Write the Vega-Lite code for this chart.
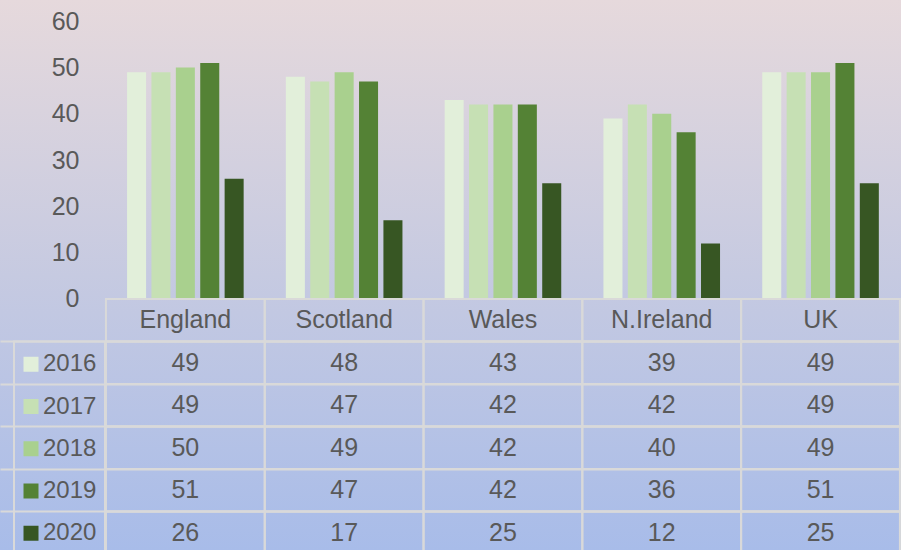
{
  "$schema": "https://vega.github.io/schema/vega-lite/v6.json",
  "width": 901,
  "height": 550,
  "autosize": {"type": "none"},
  "padding": 0,
  "config": {
    "view": {
      "stroke": null,
      "fill": {
        "gradient": "linear", "x1": 0, "y1": 0, "x2": 0, "y2": 1,
        "stops": [
          {"offset": 0, "color": "#e6d9dc"},
          {"offset": 0.5, "color": "#c6cae1"},
          {"offset": 1, "color": "#a8bce9"}
        ]
      }
    },
    "font": "Liberation Sans",
    "legend": {"strokeWidth": 2}
  },
  "data": {
    "values": [
      {"country": "England", "year": "2016", "value": 49},
      {"country": "England", "year": "2017", "value": 49},
      {"country": "England", "year": "2018", "value": 50},
      {"country": "England", "year": "2019", "value": 51},
      {"country": "England", "year": "2020", "value": 26},
      {"country": "Scotland", "year": "2016", "value": 48},
      {"country": "Scotland", "year": "2017", "value": 47},
      {"country": "Scotland", "year": "2018", "value": 49},
      {"country": "Scotland", "year": "2019", "value": 47},
      {"country": "Scotland", "year": "2020", "value": 17},
      {"country": "Wales", "year": "2016", "value": 43},
      {"country": "Wales", "year": "2017", "value": 42},
      {"country": "Wales", "year": "2018", "value": 42},
      {"country": "Wales", "year": "2019", "value": 42},
      {"country": "Wales", "year": "2020", "value": 25},
      {"country": "N.Ireland", "year": "2016", "value": 39},
      {"country": "N.Ireland", "year": "2017", "value": 42},
      {"country": "N.Ireland", "year": "2018", "value": 40},
      {"country": "N.Ireland", "year": "2019", "value": 36},
      {"country": "N.Ireland", "year": "2020", "value": 12},
      {"country": "UK", "year": "2016", "value": 49},
      {"country": "UK", "year": "2017", "value": 49},
      {"country": "UK", "year": "2018", "value": 49},
      {"country": "UK", "year": "2019", "value": 51},
      {"country": "UK", "year": "2020", "value": 25}
    ]
  },
  "layer": [
    {
      "mark": {"type": "bar"},
      "encoding": {
        "x": {
          "field": "country", "type": "nominal",
          "scale": {"domain": ["England", "Scotland", "Wales", "N.Ireland", "UK"], "paddingInner": 0, "paddingOuter": 0.337, "align": 0.99},
          "axis": null
        },
        "xOffset": {
          "field": "year", "type": "nominal",
          "scale": {"domain": ["2016", "2017", "2018", "2019", "2020"], "paddingInner": 0.22, "paddingOuter": 0.865}
        },
        "y": {
          "field": "value", "type": "quantitative",
          "scale": {"domain": [-54.25, 64.6], "nice": false, "zero": false},
          "axis": {
            "orient": "left", "offset": -106, "values": [0, 10, 20, 30, 40, 50, 60],
            "domain": false, "ticks": false, "tickSize": 0, "grid": false, "title": null,
            "labelFontSize": 25, "labelColor": "#595959", "labelPadding": 27
          }
        },
        "color": {
          "field": "year", "type": "nominal",
          "scale": {"domain": ["2016", "2017", "2018", "2019", "2020"], "range": ["#e2efda", "#c6e0b4", "#a9d08e", "#548235", "#375623"]},
          "legend": {
            "orient": "none", "legendX": 14, "legendY": 341.5, "title": " ", "titleFontSize": 1, "titlePadding": 1.75,
            "direction": "vertical",
            "symbolType": "square", "symbolSize": 225, "symbolStrokeWidth": 0,
            "labelFontSize": 24, "labelColor": "#595959", "labelOffset": 0,
            "rowPadding": 18.25, "padding": 8, "symbolOffset": -3,
            "strokeColor": "#d9d9d9"
          }
        }
      }
    },
    {
      "layer": [
        {
          "mark": {"type": "rect", "fillOpacity": 0, "stroke": "#d9d9d9", "strokeWidth": 2},
          "encoding": {
            "x": {"field": "country", "type": "nominal"},
            "y": {
              "field": "year", "type": "nominal",
              "scale": {"domain": ["hdr", "2016", "2017", "2018", "2019", "2020"], "range": [299, 554], "paddingInner": 0, "paddingOuter": 0},
              "axis": {
                "orient": "right", "labels": false, "ticks": false, "domain": false, "title": null,
                "grid": true, "gridColor": "#d9d9d9", "gridWidth": 2, "bandPosition": 0,
                "values": ["2016", "2017", "2018", "2019", "2020"]
              }
            }
          }
        },
        {
          "transform": [{"filter": "datum.year == '2016'"}],
          "mark": {"type": "rect", "fillOpacity": 0, "stroke": "#d9d9d9", "strokeWidth": 2},
          "encoding": {
            "x": {"field": "country", "type": "nominal"},
            "y": {"datum": "hdr", "type": "nominal"}
          }
        },
        {
          "mark": {"type": "text", "fontSize": 25, "color": "#595959", "baseline": "middle", "align": "center"},
          "encoding": {
            "x": {"field": "country", "type": "nominal"},
            "y": {"field": "year", "type": "nominal"},
            "text": {"field": "value", "type": "quantitative"}
          }
        },
        {
          "transform": [{"filter": "datum.year == '2016'"}],
          "mark": {"type": "text", "fontSize": 25, "color": "#595959", "baseline": "middle", "align": "center"},
          "encoding": {
            "x": {"field": "country", "type": "nominal"},
            "y": {"datum": "hdr", "type": "nominal"},
            "text": {"field": "country", "type": "nominal"}
          }
        }
      ]
    }
  ],
  "resolve": {"scale": {"y": "independent"}}
}
